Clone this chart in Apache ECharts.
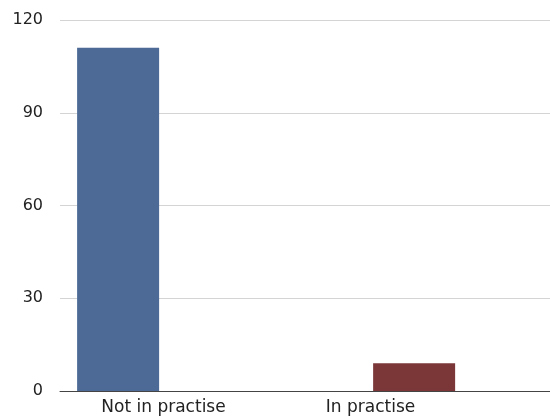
<!DOCTYPE html>
<html>
<head>
<meta charset="utf-8">
<script src="https://cdn.jsdelivr.net/npm/echarts@6/dist/echarts.min.js"></script>
<style>
  html, body { margin: 0; padding: 0; background: #fff; }
  #chart { width: 550px; height: 418px; }
</style>
</head>
<body>
<div id="chart"></div>
<script>
// data
var categories = ['Not in practise', 'In practise'];
var counts = [111, 9];
var barColors = ['#4c6a95', '#7b3738'];
var yTicks = [0, 30, 60, 90, 120];

var chart = echarts.init(document.getElementById('chart'));

var top_ = 20, bottom_ = 27;
var font = 'DejaVu Sans, Helvetica, Arial, sans-serif';

// bars sit on a value axis: bar i is drawn at x = i
var barPoints = counts.map(function (v, i) {
    return { value: [i, v], itemStyle: { color: barColors[i] } };
});

var option = {
    animation: false,
    grid: [
        // grid lines + y labels
        { left: 60, right: 0, top: top_, bottom: bottom_ },
        // bars
        { left: 0, right: 0, top: top_, bottom: bottom_ },
        // category labels
        { left: 60, width: 414, top: top_, bottom: bottom_ }
    ],
    xAxis: [
        {
            gridIndex: 0, type: 'category', data: categories,
            axisLine: { show: true, lineStyle: { color: '#444', width: 1 } },
            axisTick: { show: false },
            axisLabel: { show: false }
        },
        {
            gridIndex: 1, type: 'value', min: -0.399, max: 1.459,
            axisLine: { show: false }, axisTick: { show: false },
            axisLabel: { show: false }, splitLine: { show: false }
        },
        {
            gridIndex: 2, type: 'category', data: categories,
            axisLine: { show: false }, axisTick: { show: false },
            axisLabel: { color: '#222', fontSize: 17, fontFamily: font, margin: 8 }
        }
    ],
    yAxis: [
        {
            gridIndex: 0, type: 'value',
            min: yTicks[0], max: yTicks[yTicks.length - 1], interval: 30,
            axisLine: { show: false }, axisTick: { show: false },
            axisLabel: { color: '#222', fontSize: 16, fontFamily: font, margin: 17 },
            splitLine: { show: true, lineStyle: { color: '#d4d4d4', width: 1 } }
        },
        {
            gridIndex: 1, type: 'value', min: 0, max: 120, interval: 30,
            axisLine: { show: false }, axisTick: { show: false },
            axisLabel: { show: false }, splitLine: { show: false }
        },
        {
            gridIndex: 2, type: 'value', min: 0, max: 120, interval: 30,
            axisLine: { show: false }, axisTick: { show: false },
            axisLabel: { show: false }, splitLine: { show: false }
        }
    ],
    series: [
        {
            type: 'bar',
            xAxisIndex: 1,
            yAxisIndex: 1,
            barWidth: 82,
            data: barPoints
        }
    ]
};

chart.setOption(option);
</script>
</body>
</html>
